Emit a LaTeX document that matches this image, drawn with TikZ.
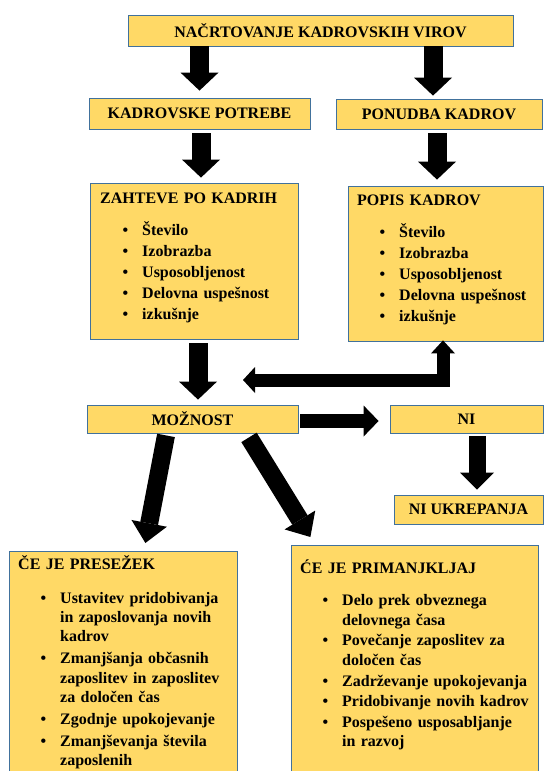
\documentclass[tikz,border=0pt]{standalone}
\usepackage{fontspec}
\setmainfont{Liberation Serif}
\usepackage{enumitem}
\usetikzlibrary{arrows.meta,positioning}

\definecolor{boxfill}{RGB}{255,217,102}
\definecolor{boxline}{RGB}{65,113,156}

\setlist[itemize]{label=\textbullet,leftmargin=42pt,labelsep=14pt,
  topsep=13pt,itemsep=1.7pt,parsep=0pt,partopsep=0pt}

\tikzset{
  box/.style={draw=boxline,fill=boxfill,line width=0.8pt,inner sep=0pt,
    font=\fontsize{16}{18}\selectfont\bfseries},
  listtext/.style={inner sep=0pt,align=left,
    font=\fontsize{16}{19.3}\selectfont\bfseries},
  bigarrow/.style={line width=19pt,-{Triangle[length=18pt,width=38pt,line width=0pt]}},
  sidearrow/.style={line width=14pt,-{Triangle[length=15pt,width=31pt,line width=0pt]}},
  niarrow/.style={line width=17pt,-{Triangle[length=17pt,width=34pt,line width=0pt]}},
  diagarrow/.style={line width=18pt,-{Triangle[length=20pt,width=36pt,line width=0pt]}},
  elbowarrow/.style={line width=13pt,line join=miter,
    {Triangle[length=12pt,width=26pt,line width=0pt]}-{Triangle[length=13pt,width=24pt,line width=0pt]}}
}

\begin{document}
\begin{tikzpicture}[x=1pt,y=-1pt]
\useasboundingbox (0,0) rectangle (544,771);

% boxes
\node[box,minimum width=385pt,minimum height=31pt] (plan) at (320.5,30.5) {NAČRTOVANJE KADROVSKIH VIROV};
\node[box,minimum width=221pt,minimum height=31pt] (potrebe) at (199.5,113.5) {KADROVSKE POTREBE};
\node[box,minimum width=206pt,minimum height=30pt] (ponudba) at (439,114) {PONUDBA KADROV};
\node[box,minimum width=208pt,minimum height=156pt] (zahteve) at (194,261) {};
\node[box,minimum width=195pt,minimum height=155pt] (popis) at (445.5,263.5) {};
\node[box,minimum width=211pt,minimum height=28pt] (moznost) at (192.5,419) {MOŽNOST};
\node[box,minimum width=153pt,minimum height=28pt] (ni) at (466.5,419) {NI};
\node[box,minimum width=149pt,minimum height=29pt] (niukrep) at (468.5,509.5) {NI UKREPANJA};
\node[box,minimum width=228pt,minimum height=230pt,anchor=north west] (presezek) at (9,551) {};
\node[box,minimum width=247pt,minimum height=236pt,anchor=north west] (primanjk) at (291,545) {};

% texts in the big boxes
\node[listtext,text width=190pt,anchor=base west] (zahteve-t) at (100,203) {ZAHTEVE PO KADRIH
\begin{itemize}
\item Število
\item Izobrazba
\item Usposobljenost
\item Delovna uspešnost
\item izkušnje
\end{itemize}};
\node[listtext,text width=180pt,anchor=base west] (popis-t) at (357,205) {POPIS KADROV
\begin{itemize}
\item Število
\item Izobrazba
\item Usposobljenost
\item Delovna uspešnost
\item izkušnje
\end{itemize}};
\node[listtext,text width=215pt,anchor=base west] (presezek-t) at (18,569) {ČE JE PRESEŽEK
\begin{itemize}[topsep=15pt,itemsep=2.6pt]
\item Ustavitev pridobivanja\newline in zaposlovanja novih\newline kadrov
\item Zmanjšanja občasnih\newline zaposlitev in zaposlitev\newline za določen čas
\item Zgodnje upokojevanje
\item Zmanjševanja števila\newline zaposlenih
\end{itemize}};
\node[listtext,text width=235pt,anchor=base west] (primanjk-t) at (300,573) {ĆE JE PRIMANJKLJAJ
\begin{itemize}[topsep=13.5pt,itemsep=1.5pt]
\item Delo prek obveznega\newline delovnega časa
\item Povečanje zaposlitev za\newline določen čas
\item Zadrževanje upokojevanja
\item Pridobivanje novih kadrov
\item Pospešeno usposabljanje\newline in razvoj
\end{itemize}};

% arrows
\draw[bigarrow,shorten >=7pt] (potrebe.north |- plan.south) -- (potrebe.north);
\draw[bigarrow,shorten >=3pt] ([xshift=-6pt]ponudba.north |- plan.south) -- ([xshift=-6pt]ponudba.north);
\draw[bigarrow,shorten <=4pt,shorten >=5pt] ([xshift=7pt]zahteve.north |- potrebe.south) -- ([xshift=7pt]zahteve.north);
\draw[bigarrow,shorten <=4pt,shorten >=6pt] ([xshift=-8.5pt]popis.north |- ponudba.south) -- ([xshift=-8.5pt]popis.north);
\draw[bigarrow,shorten <=4pt,shorten >=5pt] ([xshift=4pt]zahteve.south) -- ([xshift=4pt]zahteve.south |- moznost.north);
\coordinate (back) at (243,380);
\draw[elbowarrow,shorten >=-1pt] (back) -| ([xshift=-2.5pt]popis.south);
\draw[sidearrow,shorten <=2pt,shorten >=11pt] ([yshift=-2pt]moznost.east) -- ([yshift=-2pt]ni.west);
\draw[niarrow,shorten <=3pt,shorten >=5pt] ([xshift=10.5pt]ni.south) -- ([xshift=10.5pt]ni.south |- niukrep.north);
\draw[diagarrow] ([xshift=-26.5pt,yshift=-2pt]moznost.south) -- ([xshift=22pt,yshift=8pt]presezek.north);
\draw[diagarrow] ([xshift=56.5pt,yshift=-4pt]moznost.south) -- ([xshift=-104.5pt,yshift=8pt]primanjk.north);
\end{tikzpicture}
\end{document}
